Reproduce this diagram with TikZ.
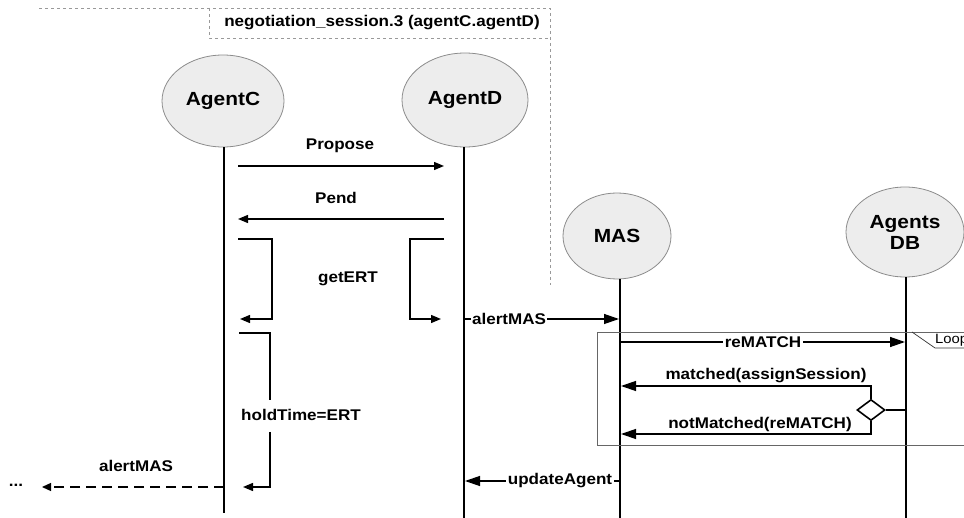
\documentclass[tikz,border=0pt]{standalone}
\usepackage{fontspec}
\setmainfont{Liberation Sans}[FakeStretch=1.1]
\usetikzlibrary{arrows.meta,shapes.geometric,calc}
\tikzset{actor/.style={ellipse,draw=black!45,fill=black!7,line width=0.8pt,align=center,
		font=\bfseries\fontsize{19}{21}\selectfont,minimum width=#1},actor/.default=122pt,
	lifeline/.style={line width=2.2pt},
	msg/.style={line width=1.3pt,-{Triangle[length=10pt,width=8pt]}},
	bigmsg/.style={line width=1.3pt,-{Triangle[length=15pt,width=10pt]}},
	lbl/.style={font=\bfseries\fontsize{15.5}{17}\selectfont,inner sep=1pt},
	onlbl/.style={lbl,fill=white,inner sep=1.5pt},
	frame/.style={black!40,dashed,line width=0.7pt}}
\begin{document}
\begin{tikzpicture}[x=1pt,y=-1pt]
		\useasboundingbox (0,0) rectangle (964,518);

		% session frame
		\draw [frame] (39,8) -- (550,8) -- (550,285);
		\draw [frame] (209,8) -- (209,38) -- (550,38);
		\node [lbl] (session) at (382,23) {negotiation\_session.3 (agentC.agentD)};

		\node [actor,minimum height=92pt] (agentC) at (223,101) {AgentC};
		\node [actor=126pt,minimum height=94pt] (agentD) at (465,100) {AgentD};
		\node [actor=108pt,minimum height=86pt] (mas) at (617,236) {MAS};
		\node [actor=118pt,minimum height=90pt] (agentsDB) at (905,232) {Agents\\DB};

		\coordinate (endC) at (224,513);
		\coordinate (endD) at (464,518);
		\coordinate (endM) at (620,518);
		\coordinate (endDB) at (906,518);

		\draw [lifeline] (agentC.south -| endC) -- (endC);
		\draw [lifeline] (agentD.south -| endD) -- (endD);
		\draw [lifeline] (mas.south -| endM) -- (endM);
		\draw [lifeline] (agentsDB.south -| endDB) -- (endDB);

		% Propose / Pend
		\coordinate (proposeC) at (238,166);
		\coordinate (proposeD) at (444,166);
		\coordinate (pendD) at (444,219);
		\coordinate (pendC) at (238,219);
		\draw [msg] (proposeC) -- (proposeD);
		\node [lbl] (proposeLbl) at (340,146) {Propose};
		\draw [msg] (pendD) -- (pendC);
		\node [lbl] (pendLbl) at (336,198) {Pend};

		% getERT
		\coordinate (ertC) at (238,239);
		\coordinate (ertCback) at (240,319);
		\coordinate (ertD) at (444,239);
		\coordinate (ertDback) at (441,319);
		\draw [msg] (ertC) -- (272,239) -- (272,319) -- (ertCback);
		\draw [msg] (ertD) -- (410,239) -- (410,319) -- (ertDback);
		\node [lbl] (ertLbl) at (348,279) {getERT};

		% holdTime
		\coordinate (holdC) at (239,333);
		\coordinate (holdCback) at (243,487);
		\draw [line width=1.3pt] (holdC) -- (270,333) -- (270,400);
		\draw [msg] (270,432) -- (270,487) -- (holdCback);
		\node [lbl,anchor=west] (holdLbl) at (240,415) {holdTime=ERT};

		% alertMAS to MAS
		\coordinate (alertD) at (464,319);
		\coordinate (alertM) at (619,319);
		\draw [bigmsg] (alertD) -- (alertM);
		\node [onlbl] (alertLbl) at (509,319) {alertMAS};

		% loop frame
		\draw [black!60,line width=0.8pt] (966,332) -- (597,332) -- (597,445) -- (966,445);
		\draw [black!80,line width=0.7pt] (912,332) -- (935,348) -- (966,348);
		\node [anchor=west,inner sep=1pt,font=\fontsize{13.5}{15}\selectfont] (loopLbl) at (934,340) {Loop};

		\coordinate (rematchM) at (620,342);
		\coordinate (rematchDB) at (905,342);
		\draw [bigmsg] (rematchM) -- (rematchDB);
		\node [onlbl] (rematchLbl) at (763,342) {reMATCH};

		\node [diamond,draw,fill=white,line width=1.6pt,minimum width=28pt,minimum height=21pt,
			inner sep=0pt] (choice) at (871,410) {};
		\draw [line width=1.3pt] (choice.east) -- (choice.east -| endDB);
		\coordinate (matchedM) at (621,386);
		\coordinate (notMatchedM) at (621,434);
		\draw [bigmsg] (choice.north) |- (matchedM);
		\draw [bigmsg] (choice.south) |- (notMatchedM);
		\node [lbl] (matchedLbl) at (766,376) {matched(assignSession)};
		\node [lbl] (notMatchedLbl) at (760,424) {notMatched(reMATCH)};

		% updateAgent
		\coordinate (updateM) at (620,481);
		\coordinate (updateD) at (465,481);
		\draw [bigmsg] (updateM) -- (updateD);
		\node [onlbl] (updateLbl) at (560,481) {updateAgent};

		% alertMAS onwards
		\coordinate (fwdC) at (224,487);
		\coordinate (fwdEnd) at (42,487);
		\draw [line width=1.3pt,dash pattern=on 10pt off 6pt,-{Triangle[length=9pt,width=8pt]}] (fwdC) -- (fwdEnd);
		\node [lbl] (fwdLbl) at (136,466) {alertMAS};
		\node [lbl] (dots) at (16,485) {...};

	\end{tikzpicture}
\end{document}
